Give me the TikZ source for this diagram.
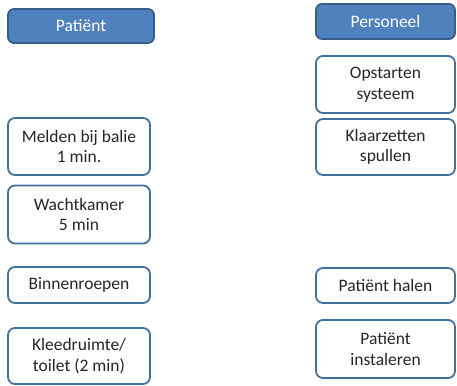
\documentclass[tikz,border=0pt]{standalone}
\usepackage{fontspec}
\setmainfont{Carlito}
\usepackage{tikz}
\definecolor{kopblauw}{HTML}{4F81BD}
\definecolor{kopranden}{HTML}{385D8A}
\definecolor{randblauw}{HTML}{41719C}
\definecolor{tekstgrijs}{HTML}{262626}
\tikzset{
	taak/.style={draw=randblauw, line width=1.8pt, rounded corners=7pt, fill=white, align=center, text=tekstgrijs, inner sep=0pt, font=\fontsize{17.5}{20.5}\selectfont},
	kop/.style={draw=kopranden, line width=1.8pt, rounded corners=6pt, fill=kopblauw, align=center, text=white, inner sep=0pt, font=\fontsize{17.5}{20.5}\selectfont}
}

\begin{document}
\begin{tikzpicture}[x=1pt, y=-1pt]
			%%%%% START %%%%%
			
			\useasboundingbox (0, 0) rectangle (457, 385);
			
			\node[kop, minimum width=146pt, minimum height=34pt] (patient) at (81, 26) {Patiënt};
			\node[kop, minimum width=139pt, minimum height=35pt] (personeel) at (385.5, 21.5) {Personeel};
			
			\node[taak, minimum width=142pt, minimum height=57pt] (melden) at (79, 146.5) {Melden bij balie\\1 min.};
			\node[taak, minimum width=142pt, minimum height=58pt] (wachtkamer) at (79, 214.5) {Wachtkamer\\5 min};
			\node[taak, minimum width=142pt, minimum height=36pt] (binnenroepen) at (79, 285) {Binnenroepen};
			\node[taak, minimum width=142pt, minimum height=56pt] (kleedruimte) at (79, 356) {Kleedruimte/\\toilet (2 min)};
			
			\node[taak, minimum width=139pt, minimum height=57pt] (opstarten) at (385.5, 84.5) {Opstarten\\systeem};
			\node[taak, minimum width=139pt, minimum height=56pt] (klaarzetten) at (385.5, 147) {Klaarzetten\\spullen};
			\node[taak, minimum width=139pt, minimum height=35pt] (halen) at (385.5, 285.5) {Patiënt halen};
			\node[taak, minimum width=139pt, minimum height=58pt] (instaleren) at (385.5, 349) {Patiënt\\instaleren};
			
			%%%%% END %%%%%
\end{tikzpicture}
\end{document}
